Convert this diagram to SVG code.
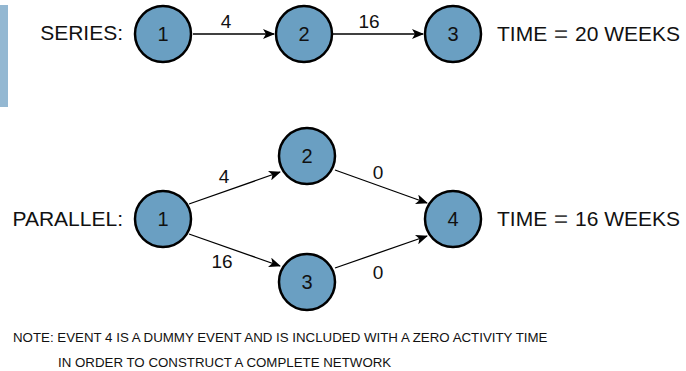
<svg xmlns="http://www.w3.org/2000/svg" width="686" height="371" viewBox="0 0 686 371">
<style>
.node circle{fill:#6a9fc2;stroke:#000;stroke-width:2.5}
.node text{font-family:"Liberation Sans",Arial,sans-serif;font-size:20px;fill:#111;text-anchor:middle}
.lbl{font-family:"Liberation Sans",Arial,sans-serif;font-size:21px;fill:#111}
.eq{font-family:"Liberation Sans",Arial,sans-serif;font-size:24px;fill:#444;text-anchor:middle}
.el{font-family:"Liberation Sans",Arial,sans-serif;font-size:19px;fill:#111;text-anchor:middle}
.note{font-family:"Liberation Sans",Arial,sans-serif;font-size:13.3px;fill:#111}
.edges line{stroke:#000;stroke-width:1.3;marker-end:url(#ah)}
</style>
<defs>
<marker id="ah" viewBox="0 0 12 10" refX="11" refY="5" markerWidth="12" markerHeight="10" markerUnits="userSpaceOnUse" orient="auto">
<path d="M0,0 L12,5 L0,10 L3,5 z" fill="#000"/>
</marker>
</defs>
<rect x="0" y="5" width="8" height="102" fill="#94b8d2"/>
<text class="lbl" x="123" y="40" text-anchor="end">SERIES:</text>
<text class="lbl" x="497" y="41">TIME</text>
<text class="eq" x="561" y="42">=</text>
<text class="lbl" x="575" y="41">20 WEEKS</text>
<text class="lbl" x="123" y="226" text-anchor="end">PARALLEL:</text>
<text class="lbl" x="497" y="226">TIME</text>
<text class="eq" x="561" y="227">=</text>
<text class="lbl" x="575" y="226">16 WEEKS</text>
<g class="edges">
<line x1="193" y1="34" x2="274" y2="34"/>
<line x1="333" y1="34" x2="423" y2="34"/>
<line x1="189" y1="204" x2="280" y2="172"/>
<line x1="189" y1="234" x2="280" y2="266"/>
<line x1="335" y1="170" x2="427" y2="203"/>
<line x1="335" y1="268" x2="427" y2="236"/>
<text class="el" x="226" y="28">4</text>
<text class="el" x="369" y="28">16</text>
<text class="el" x="224" y="183">4</text>
<text class="el" x="222" y="268">16</text>
<text class="el" x="378" y="179">0</text>
<text class="el" x="378" y="279">0</text>
</g>
<g id="s1" class="node"><circle cx="163" cy="34" r="28"/><text x="163" y="41">1</text></g>
<g id="s2" class="node"><circle cx="304" cy="34" r="28"/><text x="304" y="41">2</text></g>
<g id="s3" class="node"><circle cx="453" cy="34" r="28"/><text x="453" y="41">3</text></g>
<g id="p1" class="node"><circle cx="163" cy="219" r="28"/><text x="163" y="226">1</text></g>
<g id="p2" class="node"><circle cx="307" cy="156" r="28"/><text x="307" y="163">2</text></g>
<g id="p3" class="node"><circle cx="307" cy="282" r="28"/><text x="307" y="289">3</text></g>
<g id="p4" class="node"><circle cx="453" cy="219" r="28"/><text x="453" y="226">4</text></g>
<text class="note" x="13" y="342">NOTE: EVENT 4 IS A DUMMY EVENT AND IS INCLUDED WITH A ZERO ACTIVITY TIME</text>
<text class="note" x="58" y="367">IN ORDER TO CONSTRUCT A COMPLETE NETWORK</text>
</svg>
